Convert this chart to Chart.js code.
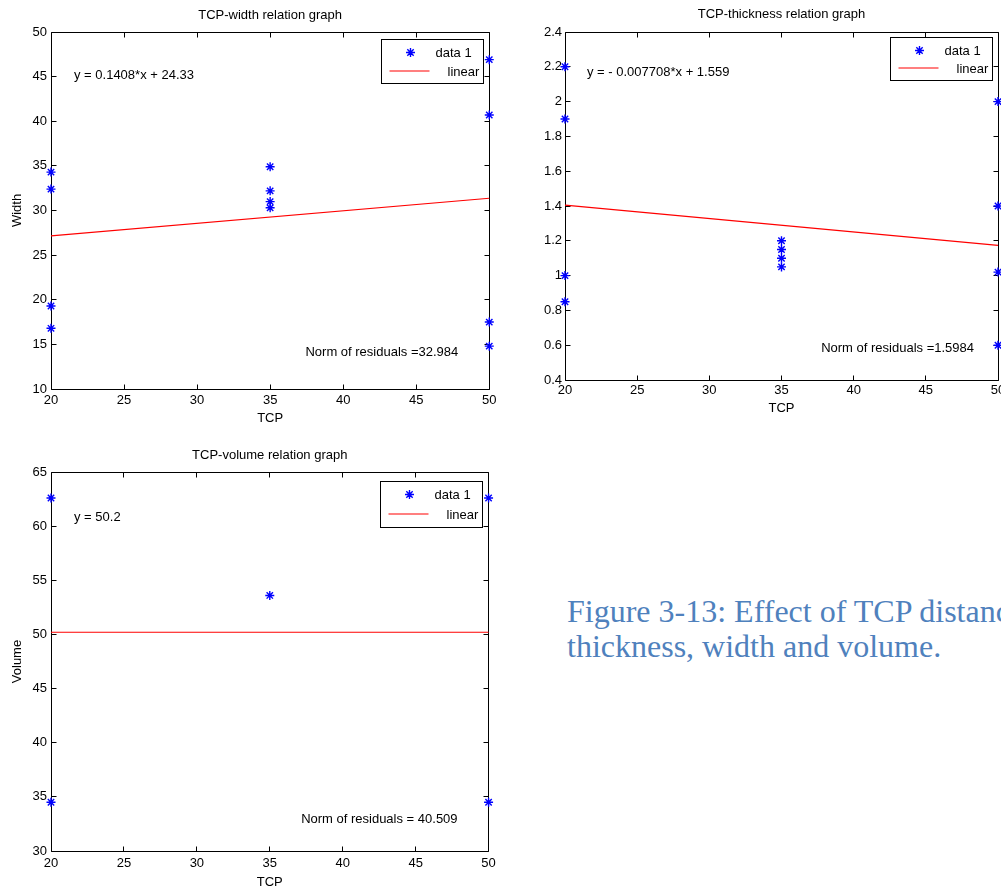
<!DOCTYPE html>
<html><head><meta charset="utf-8">
<script src="https://cdn.jsdelivr.net/npm/chart.js@4.4.0/dist/chart.umd.min.js"></script>
<style>
html,body{margin:0;padding:0;background:#fff;width:1001px;height:893px;overflow:hidden;position:relative}
canvas{display:block}
#w1{position:absolute;left:0;top:0}
#clip2{position:absolute;left:543px;top:0;width:458px;height:430px;overflow:hidden}
#w2{position:absolute;left:-20px;top:0}
#w3{position:absolute;left:0;top:440px}
#caption{position:absolute;left:567px;top:594px;font-family:"Liberation Serif","Times New Roman",serif;font-size:32px;line-height:35px;color:#4f81bd;white-space:nowrap}
</style>
</head><body>
<div id="w1"><canvas id="c1" width="500" height="428"></canvas></div>
<div id="clip2"><div id="w2"><canvas id="c2" width="487" height="418"></canvas></div></div>
<div id="w3"><canvas id="c3" width="500" height="452"></canvas></div>
<div id="caption">Figure 3-13: Effect of TCP distance<br>thickness, width and volume.</div>
<script>
// ---- data ----
const tcpTicks = ['20','25','30','35','40','45','50'];
const widthTicks = ['10','15','20','25','30','35','40','45','50'];
const thickTicks = ['0.4','0.6','0.8','1','1.2','1.4','1.6','1.8','2','2.2','2.4'];
const volTicks = ['30','35','40','45','50','55','60','65'];

const widthTCP = [20,20,20,20,35,35,35,35,50,50,50,50];
const widthVals = [34.3,32.4,19.3,16.8,34.9,32.2,31.0,30.3,46.9,40.7,17.5,14.8];
const thickTCP = [20,20,20,20,35,35,35,35,50,50,50,50];
const thickVals = [2.2,1.9,1.0,0.85,1.2,1.15,1.1,1.05,2.0,1.4,1.02,0.6];
const volTCP = [20,20,35,50,50];
const volVals = [62.6,34.5,53.6,62.6,34.5];

const fitTCP = [20,50];
const widthFit = [27.15,31.37];
const thickFit = [1.405,1.174];
const volFit = [50.2,50.2];

const seriesNames = ['data 1','linear'];
const titles = ['TCP-width relation graph','TCP-thickness relation graph','TCP-volume relation graph'];
const yTitles = ['Width','','Volume'];
const xTitle = 'TCP';
const equations = ['y = 0.1408*x + 24.33','y = - 0.007708*x + 1.559','y = 50.2'];
const norms = ['Norm of residuals =32.984','Norm of residuals =1.5984','Norm of residuals = 40.509'];

// ---- drawing ----
const FONT = '"Liberation Sans", Arial, Helvetica, sans-serif';
const FS = 13;

const decor = {
  id: 'decor',
  beforeDatasetsDraw(chart) {
    const {ctx, chartArea: a, scales} = chart;
    ctx.save();
    ctx.strokeStyle = '#000';
    ctx.lineWidth = 1;
    const L = Math.floor(a.left) + 0.5, R = Math.floor(a.right) + 0.5;
    const T = Math.floor(a.top) + 0.5, B = Math.floor(a.bottom) + 0.5;
    ctx.beginPath();
    ctx.rect(L, T, R - L, B - T);
    const tl = 5;
    scales.x.ticks.forEach(t => {
      const x = Math.floor(scales.x.getPixelForValue(t.value)) + 0.5;
      ctx.moveTo(x, B); ctx.lineTo(x, B - tl);
      ctx.moveTo(x, T); ctx.lineTo(x, T + tl);
    });
    scales.y.ticks.forEach(t => {
      const y = Math.floor(scales.y.getPixelForValue(t.value)) + 0.5;
      ctx.moveTo(L, y); ctx.lineTo(L + tl, y);
      ctx.moveTo(R, y); ctx.lineTo(R - tl, y);
    });
    ctx.stroke();
    ctx.restore();
  },
  afterDatasetsDraw(chart, args, o) {
    const {ctx, chartArea: a} = chart;
    ctx.save();
    ctx.font = FS + 'px ' + FONT;
    ctx.fillStyle = '#000';
    ctx.textBaseline = 'middle';
    ctx.textAlign = 'left';
    ctx.fillText(o.eq, a.left + o.eqDx, a.top + o.eqDy);
    ctx.textAlign = 'right';
    ctx.fillText(o.norm, a.right - o.normDx, a.bottom - o.normDy);
    // legend
    const bx = Math.floor(a.right - o.legDx - 102) + 0.5;
    const by = Math.floor(a.top + o.legDy) + 0.5;
    ctx.fillStyle = '#fff';
    ctx.fillRect(bx, by, 102, o.legH);
    ctx.strokeStyle = '#000';
    ctx.lineWidth = 1;
    ctx.strokeRect(bx, by, 102, o.legH);
    const ds = chart.data.datasets;
    ctx.strokeStyle = ds[0].pointBorderColor;
    ctx.fillStyle = ds[0].pointBackgroundColor;
    ctx.lineWidth = ds[0].pointBorderWidth;
    Chart.helpers.drawPoint(ctx, {pointStyle: 'star', radius: ds[0].pointRadius, borderWidth: ds[0].pointBorderWidth}, bx + 29, by + 13);
    ctx.fillStyle = '#000';
    ctx.textAlign = 'left';
    ctx.fillText(ds[0].label, bx + 54, by + 13.5);
    ctx.strokeStyle = ds[1].borderColor;
    ctx.lineWidth = ds[1].borderWidth;
    ctx.beginPath();
    ctx.moveTo(bx + 8, by + o.row2 - 0.5);
    ctx.lineTo(bx + 48, by + o.row2 - 0.5);
    ctx.stroke();
    ctx.fillText(ds[1].label, bx + 66, by + o.row2 + 1);
    ctx.restore();
  }
};

function makeChart(id, xs, ys, fit, yTicks, yMin, yMax, idx, L) {
  const ctx = document.getElementById(id);
  return new Chart(ctx, {
    type: 'scatter',
    data: {
      datasets: [
        {
          label: seriesNames[0],
          data: xs.map((x, i) => ({x: x, y: ys[i]})),
          pointStyle: 'star', pointRadius: 4.5, pointHoverRadius: 4.5,
          pointBorderColor: '#0000ff', pointBackgroundColor: '#0000ff', pointBorderWidth: 1.4,
          borderColor: '#0000ff', showLine: false, clip: false, order: 1
        },
        {
          label: seriesNames[1],
          type: 'line',
          data: fitTCP.map((x, i) => ({x: x, y: fit[i]})),
          borderColor: '#ff0000', borderWidth: 1.2, pointRadius: 0, fill: false,
          tension: 0, clip: false, order: 2
        }
      ]
    },
    options: {
      responsive: false, animation: false, devicePixelRatio: 1,
      events: [],
      layout: {padding: {left: 0, right: L.padR, top: 0, bottom: 0}},
      scales: {
        x: {
          type: 'linear', min: 20, max: 50,
          afterBuildTicks: s => { s.ticks = tcpTicks.map(t => ({value: parseFloat(t)})); },
          ticks: {callback: (v, i) => tcpTicks[i], color: '#000', font: {family: FONT, size: FS}, padding: L.xTickPad, maxRotation: 0, autoSkip: false},
          grid: {display: false, drawTicks: false},
          border: {display: false},
          title: {display: true, text: xTitle, color: '#000', font: {family: FONT, size: FS}, padding: {top: 0, bottom: L.xTitlePad}},
          afterFit: s => { s.height = L.xH; }
        },
        y: {
          type: 'linear', min: yMin, max: yMax,
          afterBuildTicks: s => { s.ticks = yTicks.map(t => ({value: parseFloat(t)})); },
          ticks: {callback: (v, i) => yTicks[i], color: '#000', font: {family: FONT, size: FS}, padding: L.yTickPad, autoSkip: false},
          grid: {display: false, drawTicks: false},
          border: {display: false},
          title: {display: yTitles[idx] !== '', text: yTitles[idx], color: '#000', font: {family: FONT, size: FS}, padding: {top: 9.7, bottom: 0}},
          afterFit: s => { s.width = L.yW; }
        }
      },
      plugins: {
        legend: {display: false},
        tooltip: {enabled: false},
        title: {display: true, text: titles[idx], color: '#000', fullSize: false,
                font: {family: FONT, size: FS, weight: 'normal'}, padding: {top: L.tTop, bottom: 32 - L.tTop - 15.6}},
        decor: {eq: equations[idx], eqDx: L.eqDx, eqDy: L.eqDy, norm: norms[idx], normDx: L.normDx, normDy: L.normDy,
                legDx: L.legDx, legDy: L.legDy, legH: L.legH, row2: L.row2}
      }
    },
    plugins: [decor]
  });
}

makeChart('c1', widthTCP, widthVals, widthFit, widthTicks, 10, 50, 0,
  {padR: 10, xTickPad: 3.5, xTitlePad: 2.2, xH: 39, yTickPad: 4, yW: 51, tTop: 8,
   eqDx: 23, eqDy: 43, normDx: 31, normDy: 37, legDx: 6, legDy: 7, legH: 44, row2: 32});
makeChart('c2', thickTCP, thickVals, thickFit, thickTicks, 0.4, 2.4, 1,
  {padR: 12, xTickPad: 2.2, xTitlePad: 2.2, xH: 38, yTickPad: 3, yW: 42, tTop: 7,
   eqDx: 22, eqDy: 40, normDx: 24, normDy: 32, legDx: 6, legDy: 5, legH: 43, row2: 31});
makeChart('c3', volTCP, volVals, volFit, volTicks, 30, 65, 2,
  {padR: 10, xTickPad: 4.2, xTitlePad: 2.2, xH: 41, yTickPad: 4, yW: 51, tTop: 8,
   eqDx: 23, eqDy: 45, normDx: 31, normDy: 32, legDx: 6, legDy: 9, legH: 46, row2: 33});
</script>
</body></html>
